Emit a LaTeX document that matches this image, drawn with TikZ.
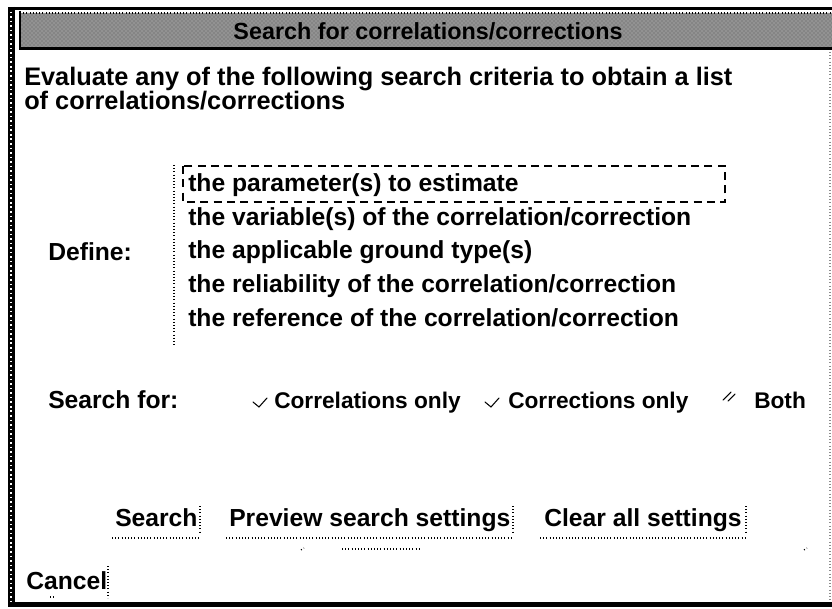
\documentclass[tikz,border=0pt]{standalone}
\usepackage{fontspec}
\setmainfont{Liberation Sans}
\usetikzlibrary{patterns}
\begin{document}
\begin{tikzpicture}[x=0.75pt,y=-0.75pt,
  lbl/.style={anchor=base west, inner sep=0pt, font=\fontsize{18.5}{22}\selectfont\bfseries},
  introlbl/.style={anchor=base west, inner sep=0pt, font=\fontsize{19}{23}\selectfont\bfseries},
  radiolbl/.style={anchor=base west, inner sep=0pt, font=\fontsize{17}{20}\selectfont\bfseries},
  ttl/.style={inner sep=0pt, font=\fontsize{17.5}{20}\selectfont\bfseries},
  dotline/.style={line width=0.9pt, dash pattern=on 0.8pt off 1.6pt},
  focusbox/.style={line width=1.9pt, dash pattern=on 6pt off 4pt},
  radiomark/.style={line width=0.8pt, line cap=round}]
  \fill[white] (0,0) rectangle (832,609);
  \useasboundingbox (0,0) rectangle (832,609);

  % window frame
  \draw[line width=5.25pt] (11,7) -- (11,607);
  \draw[white, line width=1.1pt, dash pattern=on 1.2pt off 2.2pt] (11,7) -- (11,607);
  \draw[line width=2.25pt] (8,9) -- (832,9);
  \fill[black!48] (20,13) rectangle (832,48);
  \fill[pattern=crosshatch dots, pattern color=white!75!black] (20,13) rectangle (832,48);
  \draw[line width=2.25pt] (19,49) -- (832,49);
  \draw[line width=1.5pt] (20,11) -- (20,50);
  \draw[dotline] (20,13) -- (832,13);
  \draw[line width=3.75pt] (8,604) -- (832,604);
  \draw[black!45, dotline] (830,52) -- (830,600);

  % title
  \node[ttl] (title) at (428,31) {Search for correlations/corrections};

  % introduction
  \node[introlbl] (intro1) at (24,86) {Evaluate any of the following search criteria to obtain a list};
  \node[introlbl] (intro2) at (24,110) {of correlations/corrections};

  % criteria list
  \node[lbl] (define) at (48,261) {Define:};
  \coordinate (sepTop) at (174,165);
  \coordinate (sepBot) at (174,346);
  \draw[dotline] (sepTop) -- (sepBot);
  \node[lbl] (item1) at (188,192) {the parameter(s) to estimate};
  \node[lbl] (item2) at (188,226) {the variable(s) of the correlation/correction};
  \node[lbl] (item3) at (188,259) {the applicable ground type(s)};
  \node[lbl] (item4) at (188,293) {the reliability of the correlation/correction};
  \node[lbl] (item5) at (188,327) {the reference of the correlation/correction};
  \draw[focusbox] (183,166) rectangle (725,202);

  % search type
  \node[lbl] (searchfor) at (48,409) {Search for:};
  \node[radiolbl] (rcorrel) at (274,409) {Correlations only};
  \node[radiolbl] (rcorrec) at (508,409) {Corrections only};
  \node[radiolbl] (rboth) at (754,409) {Both};
  \draw[radiomark] (253,402) -- (259,407) -- (267,398);
  \draw[radiomark] (485,402) -- (491,407) -- (499,398);
  \draw[radiomark] (723,400) -- (731,392);
  \draw[radiomark] (728,401) -- (735,394);

  % action buttons
  \node[lbl] (bsearch) at (115,527) {Search};
  \node[lbl] (bpreview) at (229,527) {Preview search settings};
  \node[lbl] (bclear) at (544,527) {Clear all settings};
  \draw[dotline] (200,506) -- (200,533);
  \draw[dotline] (112,538) -- (200,538);
  \draw[dotline] (513,506) -- (513,533);
  \draw[dotline] (226,538) -- (513,538);
  \draw[dotline] (746,506) -- (746,533);
  \draw[dotline] (540,538) -- (746,538);

  % separator remnants
  \draw[dotline] (301,550) -- (304,548);
  \draw[dotline] (342,549) -- (420,549);
  \draw[dotline] (804,550) -- (807,548);

  % cancel
  \node[lbl] (bcancel) at (26,589) {Cancel};
  \draw[dotline] (108,566) -- (108,598);
  \draw[dotline] (50,597) -- (56,597);
\end{tikzpicture}
\end{document}
